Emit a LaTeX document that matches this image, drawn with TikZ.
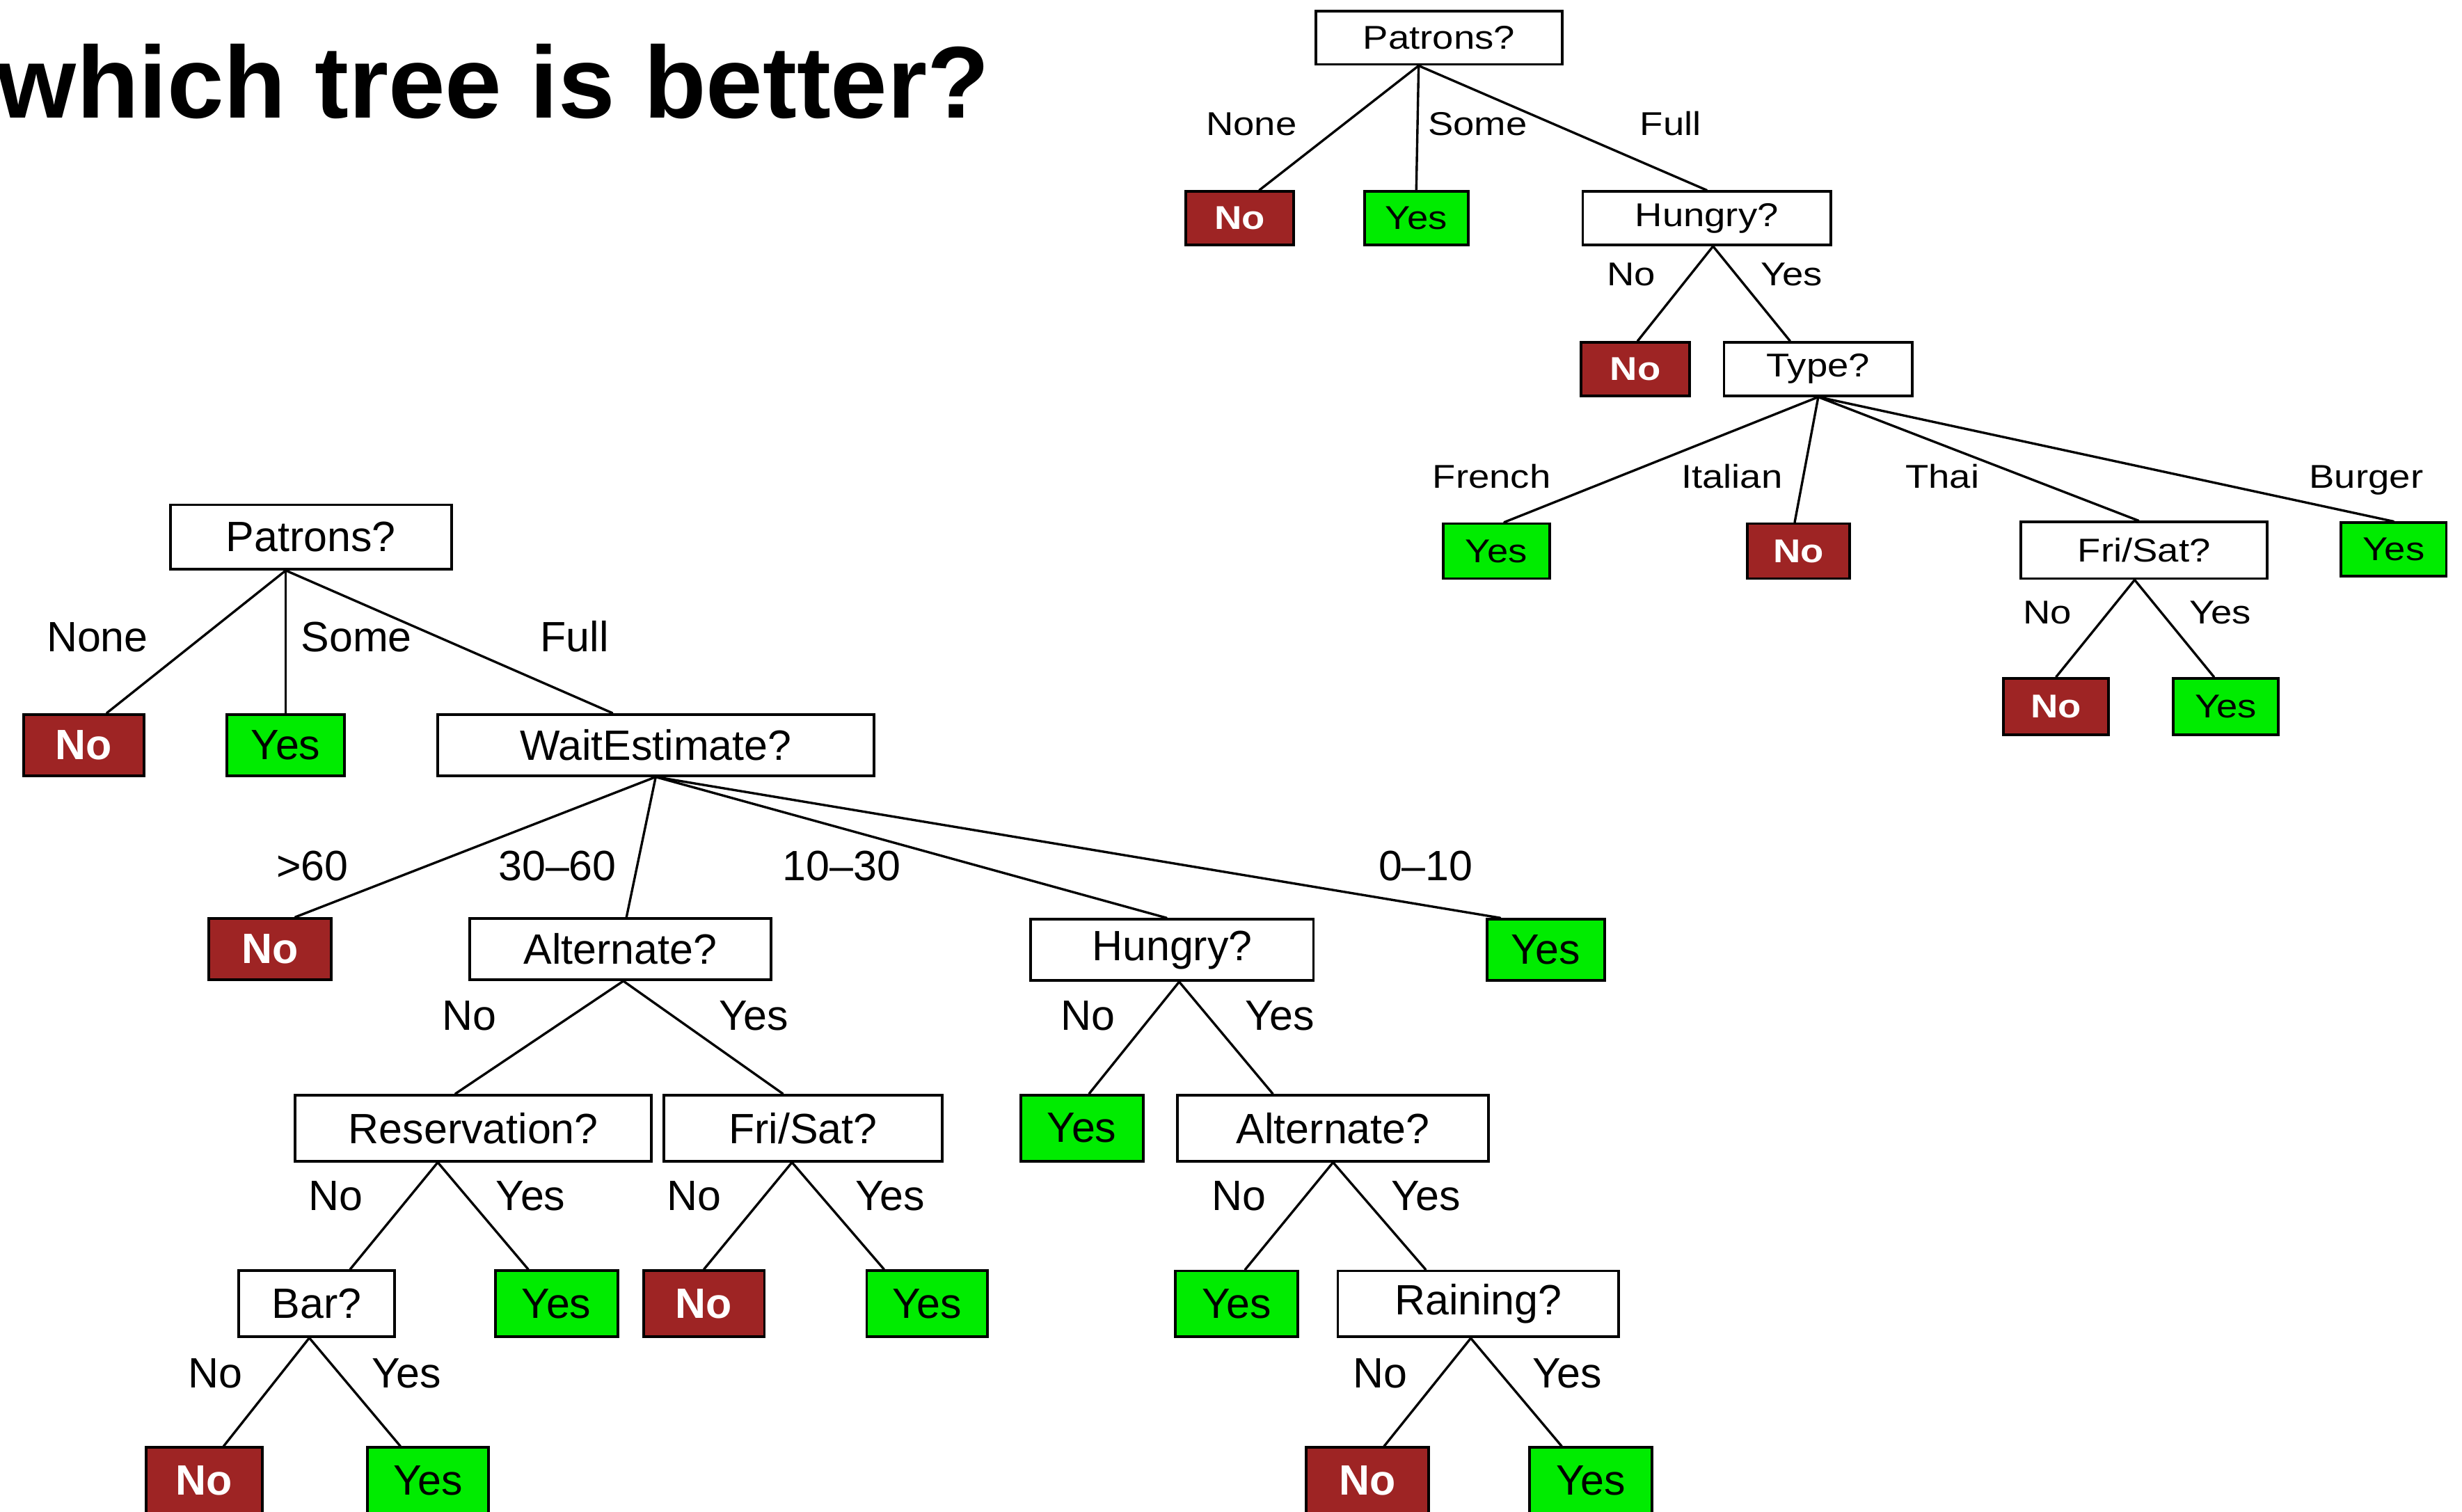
\documentclass[tikz,border=0pt]{standalone}
\usepackage{fontspec}
\setmainfont{Liberation Sans}
\newfontfamily\smalltreefont[FakeStretch=1.15]{Liberation Sans}
\definecolor{leafred}{RGB}{158,36,36}
\definecolor{leafgreen}{RGB}{0,236,0}
\newcommand{\rsize}{\smalltreefont\fontsize{21}{25}\selectfont}
\newcommand{\lsize}{\fontsize{27}{32}\selectfont}
\tikzset{
  box/.style={draw, line width=1.7pt, inner sep=0pt, anchor=center},
  qbox/.style={box, fill=white, text=black},
  noleaf/.style={box, fill=leafred, text=white},
  yesleaf/.style={box, fill=leafgreen, text=black},
  branch/.style={line width=1.5pt, line cap=round},
  lbl/.style={anchor=base, inner sep=0pt},
  rfont/.style={font=\rsize},
  lfont/.style={font=\lsize},
  rno/.style={noleaf, font=\rsize\bfseries},
  lno/.style={noleaf, font=\lsize\bfseries},
}
\begin{document}
\begin{tikzpicture}[x=1pt, y=-1pt]
\useasboundingbox (0,0) rectangle (1568,963);

% heading
\node[anchor=base west, inner sep=0pt, font=\bfseries\fontsize{65}{70}\selectfont] (title) at (-2,75) {which tree is better?};

% ---------- compact tree (upper right) ----------
\begin{scope}[rfont]
\node[qbox, minimum width=157pt, minimum height=34pt] (tP) at (916.5,24) {Patrons?};
\node[rno, minimum width=69pt, minimum height=34pt] (tNo1) at (789.5,139) {No};
\node[yesleaf, minimum width=66pt, minimum height=34pt] (tYes1) at (902,139) {Yes};
\node[qbox, minimum width=158pt, minimum height=34pt] (tH) at (1087,139) {Hungry?};
\node[rno, minimum width=69pt, minimum height=34pt] (tNo2) at (1041.5,235) {No};
\node[qbox, minimum width=120pt, minimum height=34pt] (tT) at (1158,235) {Type?};
\node[yesleaf, minimum width=68pt, minimum height=35pt] (tYes2) at (953,351) {Yes};
\node[rno, minimum width=65pt, minimum height=35pt] (tNo3) at (1145.5,351) {No};
\node[qbox, minimum width=157pt, minimum height=36pt] (tF) at (1365.5,350.5) {Fri/Sat?};
\node[yesleaf, minimum width=67pt, minimum height=34pt] (tYes3) at (1524.5,350) {Yes};
\node[rno, minimum width=67pt, minimum height=36pt] (tNo4) at (1309.5,450) {No};
\node[yesleaf, minimum width=67pt, minimum height=36pt] (tYes4) at (1417.5,450) {Yes};

\draw[branch] ([xshift=-13pt]tP.south) -- ([xshift=12.5pt]tNo1.north);
\draw[branch] ([xshift=-13pt]tP.south) -- (tYes1.north);
\draw[branch] ([xshift=-13pt]tP.south) -- (tH.north);
\draw[branch] ([xshift=4pt]tH.south) -- ([xshift=1.5pt]tNo2.north);
\draw[branch] ([xshift=4pt]tH.south) -- ([xshift=-18pt]tT.north);
\draw[branch] (tT.south) -- ([xshift=5pt]tYes2.north);
\draw[branch] (tT.south) -- ([xshift=-2.5pt]tNo3.north);
\draw[branch] (tT.south) -- ([xshift=-3.5pt]tF.north);
\draw[branch] (tT.south) -- (tYes3.north);
\draw[branch] ([xshift=-6pt]tF.south) -- (tNo4.north);
\draw[branch] ([xshift=-6pt]tF.south) -- ([xshift=-7.5pt]tYes4.north);

\node[lbl] (tlNone) at (797,86) {None};
\node[lbl] (tlSome) at (941,86) {Some};
\node[lbl] (tlFull) at (1064,86) {Full};
\node[lbl] (tlHNo) at (1039,182) {No};
\node[lbl] (tlHYes) at (1141,182) {Yes};
\node[lbl] (tlFrench) at (950,311) {French};
\node[lbl] (tlItalian) at (1103,311) {Italian};
\node[lbl] (tlThai) at (1237,311) {Thai};
\node[lbl] (tlBurger) at (1507,311) {Burger};
\node[lbl] (tlFNo) at (1304,397.5) {No};
\node[lbl] (tlFYes) at (1414,397.5) {Yes};
\end{scope}

% ---------- larger tree (left) ----------
\begin{scope}[lfont]
\node[qbox, minimum width=179pt, minimum height=41pt] (lP) at (198,342) {Patrons?};
\node[lno, minimum width=77pt, minimum height=39pt] (lNo1) at (53.4,474.5) {No};
\node[yesleaf, minimum width=75pt, minimum height=39pt] (lYes1) at (182,474.5) {Yes};
\node[qbox, minimum width=278pt, minimum height=39pt] (lW) at (417.6,474.5) {WaitEstimate?};

\node[lno, minimum width=78pt, minimum height=39pt] (lNo2) at (172,604.5) {No};
\node[qbox, minimum width=192pt, minimum height=39pt] (lA) at (395,604.5) {Alternate?};
\node[qbox, minimum width=180pt, minimum height=39pt] (lH) at (746.5,605) {Hungry?};
\node[yesleaf, minimum width=75pt, minimum height=39pt] (lYes2) at (984.5,605) {Yes};

\node[qbox, minimum width=227pt, minimum height=42pt] (lR) at (301.5,718.5) {Reservation?};
\node[qbox, minimum width=177pt, minimum height=42pt] (lF) at (511.4,718.5) {Fri/Sat?};
\node[yesleaf, minimum width=78pt, minimum height=42pt] (lYes3) at (689,718.5) {Yes};
\node[qbox, minimum width=198pt, minimum height=42pt] (lA2) at (849,718.5) {Alternate?};

\node[qbox, minimum width=99pt, minimum height=42pt] (lB) at (201.6,830.3) {Bar?};
\node[yesleaf, minimum width=78pt, minimum height=42pt] (lYes4) at (354.4,830.3) {Yes};
\node[lno, minimum width=77pt, minimum height=42pt] (lNo3) at (448.3,830.3) {No};
\node[yesleaf, minimum width=77pt, minimum height=42pt] (lYes5) at (590.5,830.3) {Yes};
\node[yesleaf, minimum width=78pt, minimum height=42pt] (lYes6) at (787.5,830.5) {Yes};
\node[qbox, minimum width=179pt, minimum height=42pt] (lRa) at (941.5,830.5) {Raining?};

\node[lno, minimum width=74pt, minimum height=42pt] (lNo4) at (130,943) {No};
\node[yesleaf, minimum width=77pt, minimum height=42pt] (lYes7) at (272.5,943) {Yes};
\node[lno, minimum width=78pt, minimum height=42pt] (lNo5) at (871,943) {No};
\node[yesleaf, minimum width=78pt, minimum height=42pt] (lYes8) at (1013,943) {Yes};

\draw[branch] ([xshift=-16pt]lP.south) -- ([xshift=14.6pt]lNo1.north);
\draw[branch] ([xshift=-16pt]lP.south) -- (lYes1.north);
\draw[branch] ([xshift=-16pt]lP.south) -- ([xshift=-27.6pt]lW.north);
\draw[branch] (lW.south) -- ([xshift=16pt]lNo2.north);
\draw[branch] (lW.south) -- ([xshift=4pt]lA.north);
\draw[branch] (lW.south) -- ([xshift=-3.5pt]lH.north);
\draw[branch] (lW.south) -- ([xshift=-29pt]lYes2.north);
\draw[branch] ([xshift=2pt]lA.south) -- ([xshift=-11.5pt]lR.north);
\draw[branch] ([xshift=2pt]lA.south) -- ([xshift=-12.8pt]lF.north);
\draw[branch] ([xshift=-22.7pt]lR.south) -- ([xshift=21.4pt]lB.north);
\draw[branch] ([xshift=-22.7pt]lR.south) -- ([xshift=-18pt]lYes4.north);
\draw[branch] ([xshift=-7pt]lF.south) -- (lNo3.north);
\draw[branch] ([xshift=-7pt]lF.south) -- ([xshift=-27.5pt]lYes5.north);
\draw[branch] ([xshift=-4.6pt]lB.south) -- ([xshift=12.4pt]lNo4.north);
\draw[branch] ([xshift=-4.6pt]lB.south) -- ([xshift=-17.5pt]lYes7.north);
\draw[branch] ([xshift=4.5pt]lH.south) -- ([xshift=4.6pt]lYes3.north);
\draw[branch] ([xshift=4.5pt]lH.south) -- ([xshift=-38.4pt]lA2.north);
\draw[branch] (lA2.south) -- ([xshift=5.5pt]lYes6.north);
\draw[branch] (lA2.south) -- ([xshift=-33.5pt]lRa.north);
\draw[branch] ([xshift=-4.8pt]lRa.south) -- ([xshift=10.5pt]lNo5.north);
\draw[branch] ([xshift=-4.8pt]lRa.south) -- ([xshift=-18.4pt]lYes8.north);

\node[lbl] (llNone) at (62,415) {None};
\node[lbl] (llSome) at (227,415) {Some};
\node[lbl] (llFull) at (366,415) {Full};
\node[lbl] (ll60) at (199,561) {>60};
\node[lbl] (ll3060) at (355,561) {30–60};
\node[lbl] (ll1030) at (536,561) {10–30};
\node[lbl] (ll010) at (908,561) {0–10};
\node[lbl] (llANo) at (299,656) {No};
\node[lbl] (llAYes) at (480,656) {Yes};
\node[lbl] (llHNo) at (693,656) {No};
\node[lbl] (llHYes) at (815,656) {Yes};
\node[lbl] (llRNo) at (214,771) {No};
\node[lbl] (llRYes) at (338,771) {Yes};
\node[lbl] (llFNo) at (442,771) {No};
\node[lbl] (llFYes) at (567,771) {Yes};
\node[lbl] (llA2No) at (789,771) {No};
\node[lbl] (llA2Yes) at (908,771) {Yes};
\node[lbl] (llBNo) at (137,884) {No};
\node[lbl] (llBYes) at (259,884) {Yes};
\node[lbl] (llRaNo) at (879,884) {No};
\node[lbl] (llRaYes) at (998,884) {Yes};
\end{scope}
\end{tikzpicture}
\end{document}
